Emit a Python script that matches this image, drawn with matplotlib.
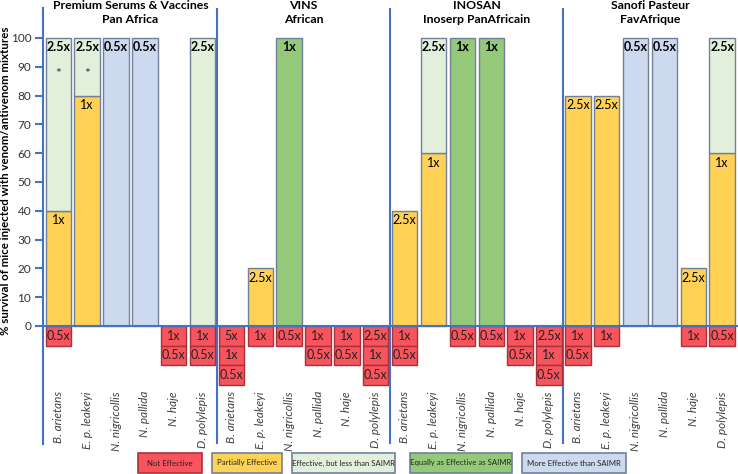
import numpy as np
import matplotlib
matplotlib.use('Agg')
import matplotlib.pyplot as plt
from matplotlib.patches import Rectangle
from matplotlib.transforms import blended_transform_factory

plt.rcParams['font.family'] = ['Lato', 'DejaVu Sans']

manufacturers = ['Premium Serums & Vaccines\nPan Africa', 'VINS\nAfrican',
                 'INOSAN\nInoserp PanAfricain', 'Sanofi Pasteur\nFavAfrique']
species = ['B. arietans', 'E. p. leakeyi', 'N. nigricollis', 'N. pallida', 'N. haje', 'D. polylepis']

# lower part of each bar: % survival, effect category, dose (6 species per manufacturer)
low_pct = [40, 80, 100, 100, 0, 100,
           0, 20, 100, 0, 0, 0,
           40, 60, 100, 100, 0, 0,
           80, 80, 100, 100, 20, 60]
low_cat = ['PE', 'PE', 'ME', 'ME', '', 'LE',
           '', 'PE', 'EQ', '', '', '',
           'PE', 'PE', 'EQ', 'EQ', '', '',
           'PE', 'PE', 'ME', 'ME', 'PE', 'PE']
low_dose = ['1x', '1x', '0.5x', '0.5x', '', '2.5x',
            '', '2.5x', '1x', '', '', '',
            '2.5x', '1x', '1x', '1x', '', '',
            '2.5x', '2.5x', '0.5x', '0.5x', '2.5x', '1x']

# upper part (stacked on the lower part, up to top_pct)
top_pct = [100, 100, 0, 0, 0, 0,
           0, 0, 0, 0, 0, 0,
           0, 100, 0, 0, 0, 0,
           0, 0, 0, 0, 0, 100]
top_cat = ['LE', 'LE', '', '', '', '',
           '', '', '', '', '', '',
           '', 'LE', '', '', '', '',
           '', '', '', '', '', 'LE']
top_dose = ['2.5x', '2.5x', '', '', '', '',
            '', '', '', '', '', '',
            '', '2.5x', '', '', '', '',
            '', '', '', '', '', '2.5x']
starred = [True, True, False, False, False, False] + [False] * 18

# doses that were not effective (boxes below zero)
not_effective = [['0.5x'], [], [], [], ['1x', '0.5x'], ['1x', '0.5x'],
                 ['5x', '1x', '0.5x'], ['1x'], ['0.5x'], ['1x', '0.5x'], ['1x', '0.5x'], ['2.5x', '1x', '0.5x'],
                 ['1x', '0.5x'], [], ['0.5x'], ['0.5x'], ['1x', '0.5x'], ['2.5x', '1x', '0.5x'],
                 ['1x', '0.5x'], ['1x'], [], [], ['1x'], ['0.5x']]

legend_codes = ['NE', 'PE', 'LE', 'EQ', 'ME']
legend_names = ['Not Effective', 'Partially Effective', 'Effective, but less than SAIMR',
                'Equally as Effective as SAIMR', 'More Effective than SAIMR']
colors = {'NE': '#F7545E', 'PE': '#FFD154', 'LE': '#E2EFDA', 'EQ': '#95C97A', 'ME': '#CDD9EF'}
blue = '#4472C4'
edge = '#71819B'
red_edge = '#A8323C'

fig = plt.figure(figsize=(7.38, 4.74), dpi=100)
ax = fig.add_axes([43 / 738, 30 / 474, 695 / 738, 436 / 474])

x = np.arange(len(species) * len(manufacturers))
w = 0.88
box_h = 6.8
lab_fs = 9

for i in x:
    if low_cat[i]:
        ax.bar(x[i], low_pct[i], width=w, color=colors[low_cat[i]], edgecolor=edge, linewidth=1, zorder=2)
        ax.text(x[i], low_pct[i] - 3.3, low_dose[i], ha='center', va='center', fontsize=lab_fs,
                fontweight='bold' if low_pct[i] == 100 else 'normal', zorder=4)
    if top_cat[i]:
        ax.bar(x[i], top_pct[i] - low_pct[i], bottom=low_pct[i], width=w, color=colors[top_cat[i]],
               edgecolor=edge, linewidth=1, zorder=2)
        ax.text(x[i], top_pct[i] - 3.3, top_dose[i], ha='center', va='center', fontsize=lab_fs,
                fontweight='bold', zorder=4)
    if starred[i]:
        ax.text(x[i], 87.5, '*', ha='center', va='center', fontsize=10, color='#333333', zorder=4)
    for k, dose in enumerate(not_effective[i]):
        ax.bar(x[i], box_h, bottom=-(k + 1) * box_h, width=w, color=colors['NE'],
               edgecolor=red_edge, linewidth=1, zorder=2)
        ax.text(x[i], -(k + 0.5) * box_h, dose, ha='center', va='center', fontsize=lab_fs,
                color='#222222', zorder=4)
    ax.text(x[i], -22.6, species[i % len(species)], rotation=90, ha='center', va='top',
            fontsize=8.5, style='italic', color='#404040')

# manufacturer separators and headers
trans = blended_transform_factory(ax.transData, ax.transAxes)
for g, name in enumerate(manufacturers):
    start = g * len(species) - 0.5
    if g > 0:
        ax.axvline(start, color=blue, linewidth=1.5, zorder=1)
    ax.text(start + len(species) / 2, 0.99, name, transform=trans, ha='center', va='center',
            fontsize=8.8, fontweight='bold', linespacing=1.3, clip_on=False)

ax.axhline(0, color=blue, linewidth=1.5, zorder=3)

ax.set_xlim(-0.53, 23.55)
ax.set_ylim(-41.0, 110.4)
ax.set_yticks(np.arange(0, 101, 10))
ax.set_xticks([])
for s in ['top', 'right', 'bottom']:
    ax.spines[s].set_visible(False)
ax.spines['left'].set_color(blue)
ax.spines['left'].set_linewidth(1.5)
ax.tick_params(axis='y', colors=blue, labelcolor='#333333', length=6, width=1.5, labelsize=8.5, pad=2.5)

fig.text(6 / 738, (474 - 181) / 474, '% survival of mice injected with venom/antivenom mixtures',
         rotation=90, ha='center', va='center', fontsize=8.3, fontweight='bold')

# legend boxes along the bottom
box_left = [138, 212, 292, 410, 522]
box_width = [64, 70, 103, 102, 104]
for code, name, bl, bw in zip(legend_codes, legend_names, box_left, box_width):
    ec = red_edge if code == 'NE' else edge
    fig.add_artist(Rectangle((bl / 738, 1 / 474), bw / 738, 20 / 474, transform=fig.transFigure,
                             facecolor=colors[code], edgecolor=ec, linewidth=1.2))
    fig.text((bl + bw / 2) / 738, 11 / 474, name, ha='center', va='center', fontsize=5.6, color='#222222')

fig.savefig('out.png', dpi=100)
